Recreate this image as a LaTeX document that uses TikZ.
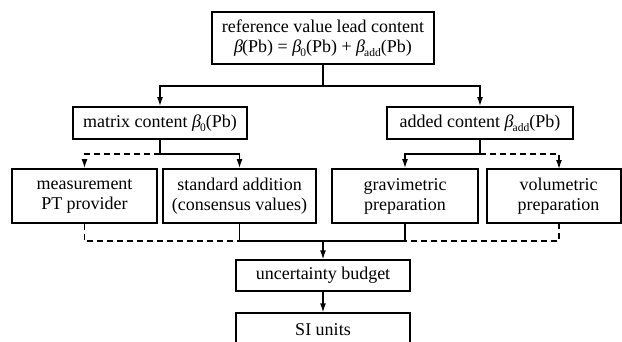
\documentclass[tikz,border=0pt]{standalone}
\usepackage{fontspec}
\setmainfont{Liberation Serif}
\usetikzlibrary{arrows.meta}
\newcommand{\bsym}[1]{{\itshape β}\kern-1pt\raisebox{-0.45ex}{\fontsize{11.5}{11.5}\selectfont #1}}
\begin{document}
\begin{tikzpicture}[x=1pt,y=-1pt,
  box/.style={draw,line width=1.9pt,rectangle,inner sep=0pt,align=center,font=\fontsize{18}{20}\selectfont},
  thinbox/.style={box,line width=1.3pt},
  conn/.style={line width=1.3pt},
  arr/.style={conn,-{Latex[length=9pt,width=6pt]}},
  dashline/.style={dash pattern=on 6pt off 4pt}]
\useasboundingbox (0,0) rectangle (622,341);
\node[box,minimum width=222pt,minimum height=52pt] (top) at (323,38)
  {reference value lead content\\\bsym{}(Pb) = \bsym{0}(Pb) + \bsym{add}(Pb)};
\node[box,minimum width=174pt,minimum height=32pt] (matrix) at (160,123) {matrix content \bsym{0}(Pb)};
\node[box,minimum width=186pt,minimum height=32pt] (added) at (480,123) {added content \bsym{add}(Pb)};
\node[box,minimum width=145pt,minimum height=54pt] (meas) at (84.5,196) {measurement\\PT provider};
\node[box,minimum width=153pt,minimum height=54pt] (std) at (239.5,196) {standard addition\\(consensus values)};
\node[box,minimum width=146pt,minimum height=54pt] (grav) at (405,196) {gravimetric\\preparation};
\node[box,minimum width=134pt,minimum height=54pt] (vol) at (554,196) {\hspace*{9pt}volumetric\\\hspace*{9pt}preparation};
\node[thinbox,minimum width=174pt,minimum height=31pt] (unc) at (323,275.5) {uncertainty budget};
\node[thinbox,minimum width=174pt,minimum height=34pt] (si) at (323,330) {SI units};
\coordinate (j1) at (323,86);
\coordinate (j2) at (160,154);
\coordinate (j3) at (480,154);
\coordinate (j4) at (323,241);
\coordinate (vn) at (559,169);
\coordinate (vs) at (559,223);
\draw[conn] (top) -- (j1);
\draw[arr] (j1) -| (matrix);
\draw[arr] (j1) -| (added);
\draw[conn] (matrix) -- (j2);
\draw[arr,dashline] (j2) -| (meas);
\draw[arr] (j2) -| (std);
\draw[conn] (added) -- (j3);
\draw[arr] (j3) -| (grav);
\draw[arr,dashline] (j3) -| (vn);
\draw[conn] (std) -- (std |- j4) -- (grav |- j4) -- (grav);
\draw[conn,dashline] (meas) |- (std |- j4);
\draw[conn,dashline] (vs) |- (grav |- j4);
\draw[arr] (j4) -- (unc);
\draw[arr] (unc) -- (si);
\end{tikzpicture}
\end{document}
